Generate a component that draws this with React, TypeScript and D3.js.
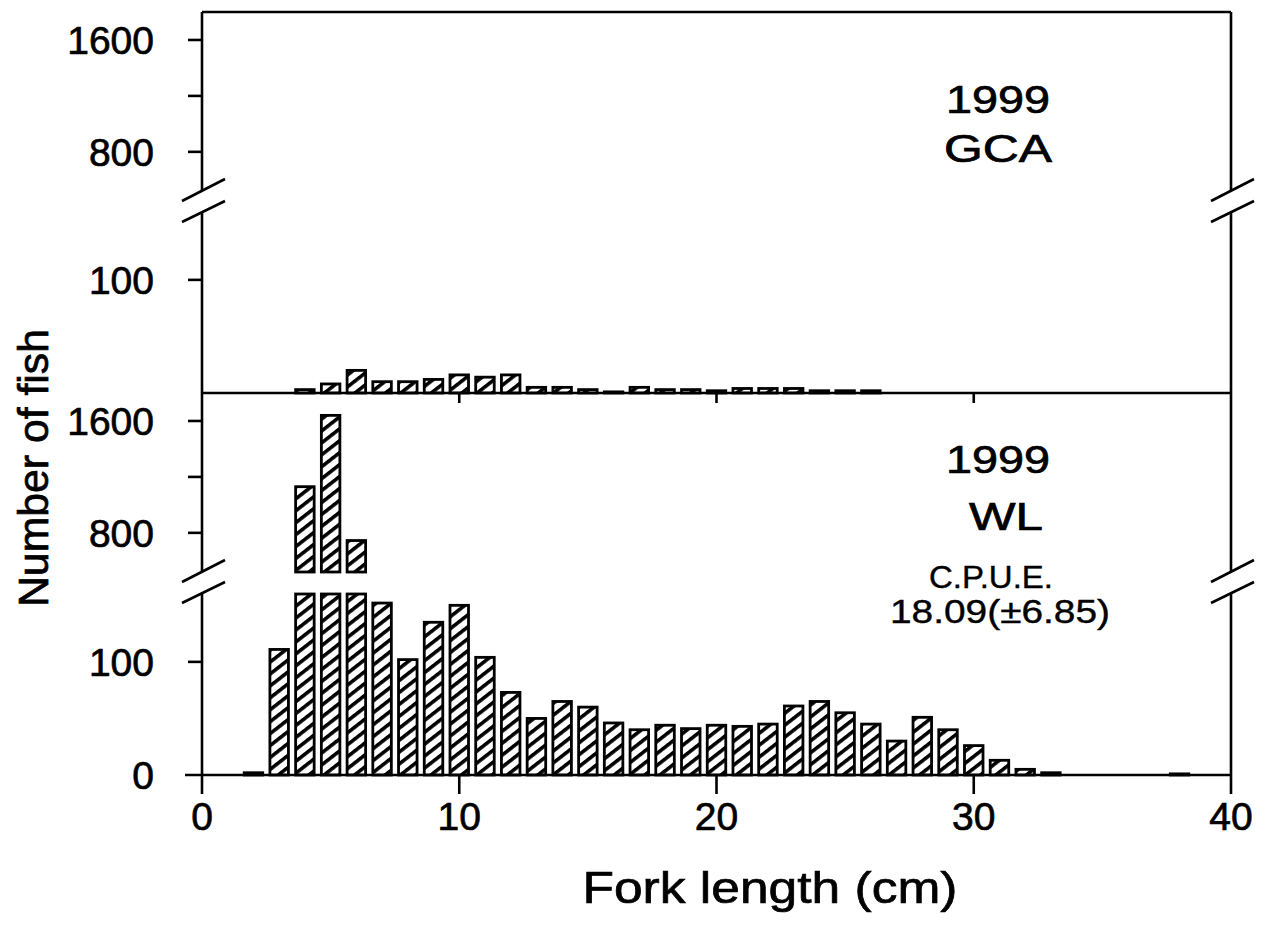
import React from 'react';
import * as d3 from 'd3';

// Fork length classes (cm) and counts
const wlLengths = [2, 3, 4, 5, 6, 7, 8, 9, 10, 11, 12, 13, 14, 15, 16, 17, 18, 19, 20, 21, 22, 23, 24, 25, 26, 27, 28, 29, 30, 31, 32, 33, 38];
const wlCounts = [2, 111, 1130, 1640, 745, 152, 102, 135, 150, 104, 73, 50, 65, 60, 46, 40, 44, 41, 44, 43, 45, 61, 65, 55, 45, 30, 51, 40, 26, 13, 5, 2, 1];

const gcaLengths = [4, 5, 6, 7, 8, 9, 10, 11, 12, 13, 14, 15, 16, 17, 18, 19, 20, 21, 22, 23, 24, 25, 26];
const gcaCounts = [3, 8, 20, 10, 10, 12, 16, 14, 16, 5, 5, 3, 1, 5, 3, 3, 2, 4, 4, 4, 2, 2, 2];

const xTicks = [0, 10, 20, 30, 40];
const upperTicks = [1600, 1200, 800];
const upperTickLabels = [1600, 800];
const lowerTicks = [100];

const FONT = "'Liberation Sans', Arial, Helvetica, sans-serif";
const X0 = 202;
const X1 = 1231;
const BAR_W = 0.72;

const x = d3.scaleLinear().domain([0, 40]).range([X0, X1]);

type Panel = {
  top: number;
  base: number;
  lengths: number[];
  counts: number[];
  line1: string;
  line2: string;
  showZero: boolean;
  textY1: number;
  textY2: number;
  extra: boolean;
};

const panels: Panel[] = [
  { top: 12, base: 393, lengths: gcaLengths, counts: gcaCounts, line1: '1999', line2: 'GCA', showZero: false, textY1: 113, textY2: 162, extra: false },
  { top: 393, base: 775, lengths: wlLengths, counts: wlCounts, line1: '1999', line2: 'WL', showZero: true, textY1: 473, textY2: 530, extra: true },
];

function BreakMarks({ ax, top }: { ax: number; top: number }) {
  return (
    <g stroke="#000" strokeWidth={2.6} fill="none">
      <line x1={ax - 20} y1={top + 189} x2={ax + 23} y2={top + 167} />
      <line x1={ax - 20} y1={top + 210} x2={ax + 23} y2={top + 189} />
    </g>
  );
}

function PanelView({ p }: { p: Panel }) {
  const yUp = d3.scaleLinear().domain([520, 1800]).range([p.top + 179, p.top]);
  const yLo = d3.scaleLinear().domain([0, 160]).range([p.base, p.base - 181]);
  const bw = x(BAR_W) - x(0);
  const txt = { fontFamily: FONT, fill: '#000', stroke: '#000', strokeWidth: 0.7 } as const;
  return (
    <g>
      {p.lengths.map((L, i) => {
        const v = p.counts[i];
        const bx = x(L) - bw / 2;
        const lowTop = v > 160 ? yLo(160) : yLo(v);
        return (
          <g key={i}>
            <rect x={bx} y={lowTop} width={bw} height={Math.max(0, p.base - lowTop)} fill="url(#hatch)" stroke="#000" strokeWidth={2.8} />
            {v > 520 && (
              <rect x={bx} y={yUp(v)} width={bw} height={yUp(520) - yUp(v)} fill="url(#hatch)" stroke="#000" strokeWidth={2.8} />
            )}
          </g>
        );
      })}
      <g stroke="#000" strokeWidth={2.6}>
        <line x1={X0} y1={p.top} x2={X0} y2={p.top + 179} />
        <line x1={X0} y1={p.top + 200} x2={X0} y2={p.base} />
        <line x1={X1} y1={p.top} x2={X1} y2={p.top + 179} />
        <line x1={X1} y1={p.top + 200} x2={X1} y2={p.base} />
        {upperTicks.map((t) => (
          <line key={`ut${t}`} x1={X0 - 14} y1={yUp(t)} x2={X0} y2={yUp(t)} />
        ))}
        {lowerTicks.map((t) => (
          <line key={`lt${t}`} x1={X0 - 14} y1={yLo(t)} x2={X0} y2={yLo(t)} />
        ))}
      </g>
      <BreakMarks ax={X0} top={p.top} />
      <BreakMarks ax={X1} top={p.top} />
      <g {...txt} fontSize={39} textAnchor="end">
        {upperTickLabels.map((t) => (
          <text key={`ul${t}`} x={154} y={yUp(t)} dy="0.36em">{t}</text>
        ))}
        {lowerTicks.map((t) => (
          <text key={`ll${t}`} x={154} y={yLo(t)} dy="0.36em">{t}</text>
        ))}
        {p.showZero && <text x={154} y={yLo(0)} dy="0.36em">0</text>}
      </g>
      <g {...txt} fontSize={38} textAnchor="middle">
        <text x={998} y={p.textY1} textLength={104} lengthAdjust="spacingAndGlyphs">{p.line1}</text>
        <text x={p.line2 === 'WL' ? 1006 : 998} y={p.textY2} textLength={p.line2 === 'GCA' ? 108 : 74} lengthAdjust="spacingAndGlyphs">{p.line2}</text>
      </g>
      {p.extra && (
        <g {...txt} textAnchor="middle" strokeWidth={0.4}>
          <text x={991} y={588} fontSize={31} textLength={124} lengthAdjust="spacingAndGlyphs">C.P.U.E.</text>
          <text x={1000} y={623} fontSize={33} textLength={220} lengthAdjust="spacingAndGlyphs">18.09(±6.85)</text>
        </g>
      )}
    </g>
  );
}

export default function App() {
  const txt = { fontFamily: FONT, fill: '#000', stroke: '#000', strokeWidth: 0.7 } as const;
  return (
    <svg width={1270} height={934} viewBox="0 0 1270 934" style={{ position: 'absolute', left: 0, top: 0, background: '#fff' }}>
      <defs>
        <pattern id="hatch" patternUnits="userSpaceOnUse" width={9.4} height={9.4} patternTransform="rotate(-38)">
          <rect width={9.4} height={9.4} fill="#fff" />
          <rect y={0} width={9.4} height={3.6} fill="#000" />
        </pattern>
      </defs>
      <rect x={0} y={0} width={1270} height={934} fill="#fff" />
      {panels.map((p, i) => (
        <PanelView key={i} p={p} />
      ))}
      <g stroke="#000" strokeWidth={2.6}>
        <line x1={X0} y1={12} x2={X1} y2={12} />
        <line x1={X0} y1={393} x2={X1} y2={393} />
        <line x1={185} y1={775} x2={X1} y2={775} />
        {xTicks.map((t) => (
          <line key={`xt${t}`} x1={x(t)} y1={775} x2={x(t)} y2={794} />
        ))}
        {xTicks.filter((t) => t > 0 && t < 40).map((t) => (
          <line key={`xm${t}`} x1={x(t)} y1={393} x2={x(t)} y2={403} />
        ))}
      </g>
      <g {...txt} fontSize={39} textAnchor="middle">
        {xTicks.map((t) => (
          <text key={`xl${t}`} x={x(t)} y={830}>{t}</text>
        ))}
      </g>
      <text {...txt} x={770} y={903} fontSize={45} textAnchor="middle" textLength={375} lengthAdjust="spacingAndGlyphs">Fork length (cm)</text>
      <text {...txt} transform="translate(48,468) rotate(-90)" fontSize={42} textAnchor="middle" textLength={278} lengthAdjust="spacingAndGlyphs">Number of fish</text>
    </svg>
  );
}
